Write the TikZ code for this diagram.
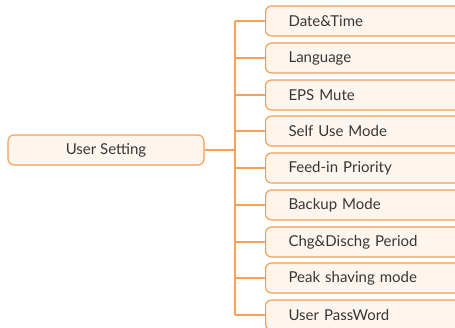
\documentclass[tikz,border=0pt]{standalone}
\usepackage{fontspec}
\setmainfont{Lato}
\usepackage{tikz}
\usetikzlibrary{positioning,calc}
\definecolor{menuorange}{RGB}{245,156,76}
\definecolor{linkorange}{RGB}{247,160,86}
\definecolor{menufill}{RGB}{253,245,238}
\definecolor{menutext}{RGB}{55,55,55}

\tikzset{
  menubox/.style={draw=menuorange, fill=menufill, line width=1.1pt, rounded corners=6pt,
    minimum height=30pt, text=menutext, font=\fontsize{15}{17}\selectfont},
  itembox/.style={menubox, anchor=west, inner xsep=23pt, text width=160pt, align=left},
  link/.style={draw=linkorange, line width=1.5pt}
}

\begin{document}
\begin{tikzpicture}[x=1pt,y=-1pt]
\useasboundingbox (0,0) rectangle (455,328);
\clip (0,0) rectangle (455,328);
\node[menubox, minimum width=196pt] (root) at (106,150) {User Setting};
\coordinate (trunk) at (235,150);
\foreach \lbl [count=\i] in {Date\&Time, Language, EPS Mute, Self Use Mode, Feed-in Priority,
    Backup Mode, Chg\&Dischg Period, Peak shaving mode, User PassWord}
  \node[itembox] (b\i) at (265,{round(21+36.75*(\i-1))}) {\lbl};
% connectors
\draw[link] (root.east) -- (root.east -| trunk);
\draw[link] (b1.west -| trunk) -- (b9.west -| trunk);
\foreach \i in {1,...,9}
  \draw[link] (b\i.west -| trunk) -- (b\i.west);
\end{tikzpicture}
\end{document}
